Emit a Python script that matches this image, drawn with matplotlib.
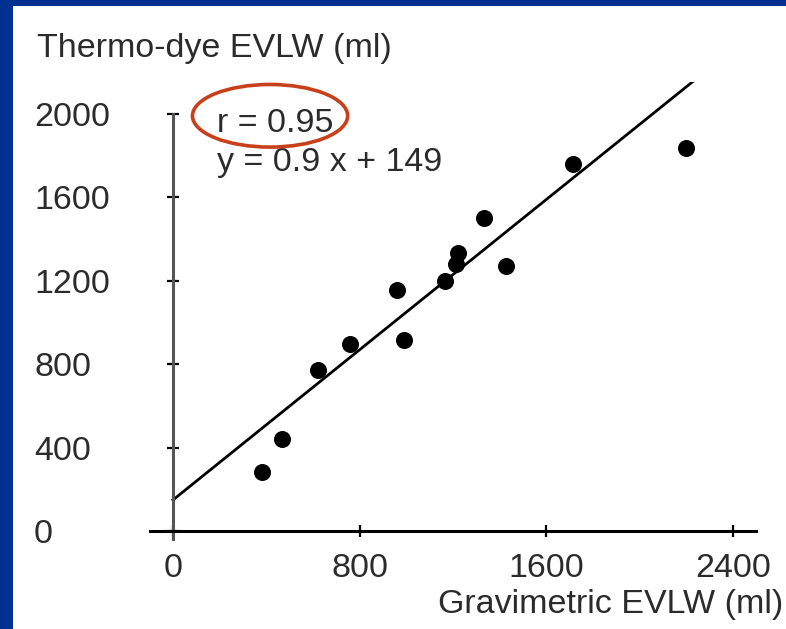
import matplotlib.pyplot as plt
from matplotlib.patches import Ellipse, Rectangle

# gravimetric vs thermo-dye extravascular lung water (ml)
gravimetric = [381, 467, 621, 758, 960, 990, 1165, 1213, 1221, 1333, 1427, 1714, 2198]
thermo_dye = [283, 441, 772, 897, 1156, 916, 1199, 1281, 1333, 1501, 1271, 1760, 1837]
x_ticks = [0, 800, 1600, 2400]
y_ticks = [0, 400, 800, 1200, 1600, 2000]
slope, intercept = 0.9, 149
r_value = 0.95

txt = '#2b2b2b'
fs = 24.5
plt.rcParams['font.family'] = ['Liberation Sans', 'DejaVu Sans']

fig = plt.figure(figsize=(7.86, 6.29), dpi=100, facecolor='#003090')
fig.patches.append(Rectangle((13 / 786, 0), 1, 1 - 6 / 629, transform=fig.transFigure,
                             facecolor='white', edgecolor='none', zorder=-10))

ax = fig.add_axes([0.1607, 0.1060, 0.8313, 0.7630])
ax.set_facecolor('none')
ax.set_xlim(-200, 2600)
ax.set_ylim(-150, 2150)

ax.scatter(gravimetric, thermo_dye, s=150, color='black', zorder=3, linewidths=0)
fit_x = [0, 2260]
ax.plot(fit_x, [slope * v + intercept for v in fit_x], color='black', lw=2.0, zorder=2)

for side in ['top', 'right']:
    ax.spines[side].set_visible(False)
ax.spines['left'].set_position(('data', 0))
ax.spines['bottom'].set_position(('data', 0))
ax.spines['left'].set_bounds(-40, 2000)
ax.spines['bottom'].set_bounds(-100, 2500)
ax.spines['left'].set_color('#555555')
ax.spines['left'].set_linewidth(2.2)
ax.spines['bottom'].set_linewidth(2.2)

ax.set_xticks(x_ticks)
ax.set_xticklabels([str(v) for v in x_ticks])
ax.set_yticks(y_ticks)
ax.set_yticklabels([str(v) for v in y_ticks])
ax.tick_params(axis='both', direction='inout', length=8, width=1.6, color='black',
               labelsize=fs, labelcolor=txt)
ax.tick_params(axis='x', pad=12)
ax.tick_params(axis='y', pad=96)
for lab in ax.get_yticklabels():
    lab.set_horizontalalignment('left')

ax.text(190, 1952, f'r = {r_value}', fontsize=fs, color=txt, va='center', ha='left')
ax.text(190, 1765, f'y = {slope} x + {intercept}', fontsize=fs, color=txt,
        va='center', ha='left')
ax.add_patch(Ellipse((416, 1990), 665, 300, fill=False, edgecolor='#c8401a',
                     lw=2.6, clip_on=False, zorder=4))

fig.text(37 / 786, 1 - 48 / 629, 'Thermo-dye EVLW (ml)', fontsize=fs, color=txt,
         ha='left', va='center')
fig.text(783 / 786, 1 - 605 / 629, 'Gravimetric EVLW (ml)', fontsize=fs, color=txt,
         ha='right', va='center')

fig.savefig('out.png', dpi=100, facecolor=fig.get_facecolor())
